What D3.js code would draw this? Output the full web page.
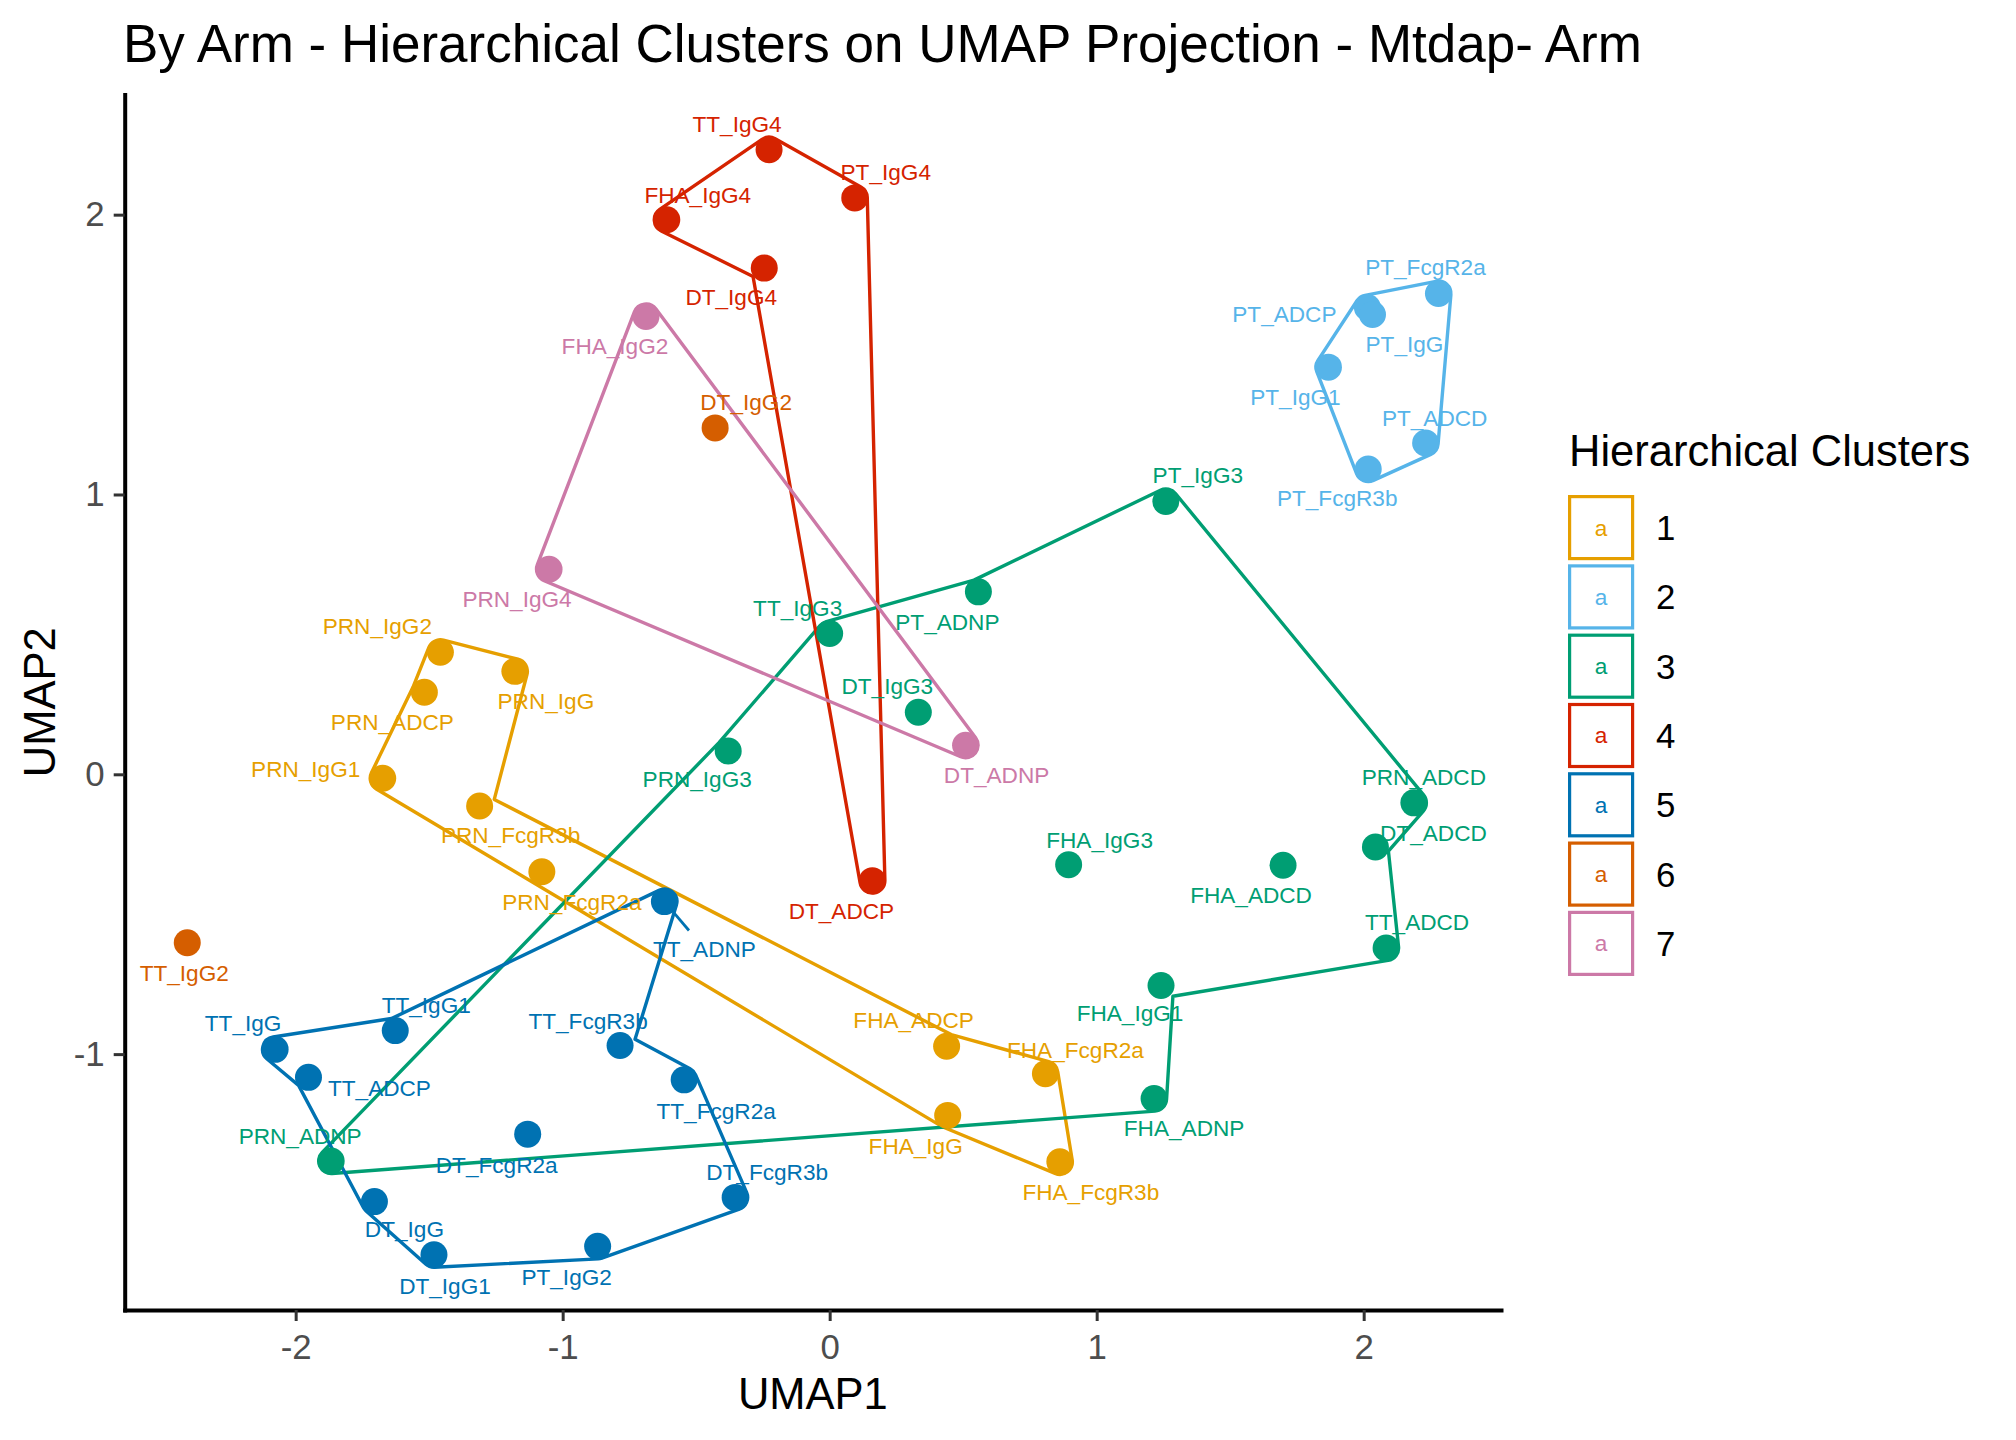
<!DOCTYPE html>
<html>
<head>
<meta charset="utf-8">
<script src="https://cdn.jsdelivr.net/npm/d3@7"></script>
<style>
  body { margin: 0; background: #fff; }
  text { font-family: "Liberation Sans", Arial, sans-serif; }
</style>
</head>
<body>
<div id="chart"></div>
<script>
// UMAP coordinates per feature
const names = [
  "PRN_IgG2", "PRN_IgG", "PRN_ADCP", "PRN_IgG1", "PRN_FcgR3b", "PRN_FcgR2a", "FHA_ADCP", "FHA_FcgR2a", "FHA_IgG", "FHA_FcgR3b",
  "PT_FcgR2a", "PT_ADCP", "PT_IgG", "PT_IgG1", "PT_ADCD", "PT_FcgR3b",
  "PT_IgG3", "PT_ADNP", "TT_IgG3", "DT_IgG3", "PRN_IgG3", "PRN_ADCD", "DT_ADCD", "FHA_IgG3", "FHA_ADCD", "TT_ADCD", "FHA_IgG1", "FHA_ADNP", "PRN_ADNP",
  "TT_IgG4", "PT_IgG4", "FHA_IgG4", "DT_IgG4", "DT_ADCP",
  "TT_ADNP", "TT_IgG", "TT_IgG1", "TT_FcgR3b", "TT_ADCP", "TT_FcgR2a", "DT_FcgR2a", "DT_FcgR3b", "DT_IgG", "PT_IgG2", "DT_IgG1",
  "DT_IgG2", "TT_IgG2",
  "FHA_IgG2", "PRN_IgG4", "DT_ADNP"
];
const umap1 = [
  -1.458, -1.179, -1.518, -1.674, -1.311, -1.078, 0.438, 0.808, 0.442, 0.862,
  2.280, 2.014, 2.033, 1.868, 2.232, 2.017,
  1.259, 0.557, 0.000, 0.332, -0.380, 2.188, 2.044, 0.895, 1.698, 2.084, 1.241, 1.215, -1.867,
  -0.227, 0.094, -0.610, -0.245, 0.160,
  -0.619, -2.077, -1.627, -0.785, -1.952, -0.545, -1.131, -0.354, -1.705, -0.869, -1.482,
  -0.429, -2.406,
  -0.688, -1.051, 0.509
];
const umap2 = [
  0.436, 0.368, 0.293, -0.014, -0.113, -0.348, -0.972, -1.070, -1.219, -1.385,
  1.718, 1.668, 1.643, 1.455, 1.184, 1.091,
  0.975, 0.652, 0.503, 0.222, 0.083, -0.102, -0.260, -0.323, -0.325, -0.621, -0.755, -1.159, -1.382,
  2.232, 2.060, 1.982, 1.809, -0.380,
  -0.455, -0.983, -0.916, -0.969, -1.083, -1.092, -1.286, -1.512, -1.527, -1.687, -1.717,
  1.238, -0.602,
  1.636, 0.733, 0.104
];
const clusters = [
  "1", "1", "1", "1", "1", "1", "1", "1", "1", "1",
  "2", "2", "2", "2", "2", "2",
  "3", "3", "3", "3", "3", "3", "3", "3", "3", "3", "3", "3", "3",
  "4", "4", "4", "4", "4",
  "5", "5", "5", "5", "5", "5", "5", "5", "5", "5", "5",
  "6", "6",
  "7", "7", "7"
];
const clusterLevels = ["1", "2", "3", "4", "5", "6", "7"];
const clusterColors = ["#E69F00", "#56B4E9", "#009E73", "#D52300", "#0072B2", "#D55E00", "#CC79A7"];

// boundary order of each cluster outline
const hullOrder = {
  "1": ["PRN_IgG2", "PRN_IgG", "PRN_FcgR3b", "FHA_ADCP", "FHA_FcgR2a", "FHA_FcgR3b", "FHA_IgG", "PRN_IgG1", "PRN_ADCP"],
  "2": ["PT_ADCP", "PT_FcgR2a", "PT_ADCD", "PT_FcgR3b", "PT_IgG1"],
  "3": ["PRN_ADNP", "PRN_IgG3", "TT_IgG3", "PT_ADNP", "PT_IgG3", "PRN_ADCD", "DT_ADCD", "TT_ADCD", "FHA_IgG1", "FHA_ADNP"],
  "4": ["TT_IgG4", "PT_IgG4", "DT_ADCP", "DT_IgG4", "FHA_IgG4"],
  "5": ["TT_IgG", "TT_IgG1", "TT_ADNP", "TT_FcgR3b", "TT_FcgR2a", "DT_FcgR3b", "PT_IgG2", "DT_IgG1", "DT_IgG", "TT_ADCP"],
  "7": ["FHA_IgG2", "DT_ADNP", "PRN_IgG4"]
};

const xTicks = [-2, -1, 0, 1, 2];
const yTicks = [-1, 0, 1, 2];

// repelled label placement (px from the point)
const labelNudge = {
  PRN_IgG2: [-63, -26], PRN_IgG: [31, 30], PRN_ADCP: [-32, 30], PRN_IgG1: [-77, -9], PRN_FcgR3b: [31, 29],
  PRN_FcgR2a: [30, 30], FHA_ADCP: [-33, -26], FHA_FcgR2a: [30, -24], FHA_IgG: [-32, 31], FHA_FcgR3b: [31, 30],
  PT_FcgR2a: [-13, -26], PT_ADCP: [-83, 7], PT_IgG: [32, 30], PT_IgG1: [-33, 30], PT_ADCD: [9, -25], PT_FcgR3b: [-31, 29],
  PT_IgG3: [32, -26], PT_ADNP: [-31, 30], TT_IgG3: [-32, -25], DT_IgG3: [-31, -26], PRN_IgG3: [-31, 28],
  PRN_ADCD: [10, -26], DT_ADCD: [58, -14], FHA_IgG3: [31, -25], FHA_ADCD: [-32, 30], TT_ADCD: [31, -26],
  FHA_IgG1: [-31, 28], FHA_ADNP: [30, 29], PRN_ADNP: [-31, -25],
  TT_IgG4: [-32, -26], PT_IgG4: [31, -26], FHA_IgG4: [31, -25], DT_IgG4: [-33, 29], DT_ADCP: [-31, 30],
  TT_ADNP: [40, 47], TT_IgG: [-32, -26], TT_IgG1: [31, -26], TT_FcgR3b: [-32, -24], TT_ADCP: [71, 11],
  TT_FcgR2a: [32, 31], DT_FcgR2a: [-31, 31], DT_FcgR3b: [32, -25], DT_IgG: [30, 28], PT_IgG2: [-31, 31], DT_IgG1: [11, 31],
  DT_IgG2: [31, -26], TT_IgG2: [-3, 30],
  FHA_IgG2: [-31, 30], PRN_IgG4: [-32, 30], DT_ADNP: [31, 30]
};

const width = 2016, height = 1440;
const panel = { left: 124.7, right: 1501, top: 94.5, bottom: 1310 };
const labelSize = 22.6, pointR = 13.5, hullExpand = 12.5;

const svg = d3.select("#chart")
  .append("svg")
  .attr("width", width)
  .attr("height", height)
  .style("display", "block");

svg.append("rect").attr("width", width).attr("height", height).attr("fill", "white");

function expand(ext) {
  const pad = (ext[1] - ext[0]) * 0.05;
  return [ext[0] - pad, ext[1] + pad];
}

const x = d3.scaleLinear().domain(expand(d3.extent(umap1))).range([panel.left, panel.right]);
const y = d3.scaleLinear().domain(expand(d3.extent(umap2))).range([panel.bottom, panel.top]);
const color = d3.scaleOrdinal().domain(clusterLevels).range(clusterColors);

const points = names.map((n, i) => ({ name: n, u1: umap1[i], u2: umap2[i], cluster: clusters[i] }));
const byName = new Map(points.map(d => [d.name, d]));

// outline expanded around the boundary points, rounded at convex corners
function hullPath(pts, e) {
  const n = pts.length;
  let area = 0;
  for (let i = 0; i < n; i++) {
    const a = pts[i], b = pts[(i + 1) % n];
    area += a[0] * b[1] - b[0] * a[1];
  }
  const s = area > 0 ? 1 : -1;
  const dirs = [], norms = [];
  for (let i = 0; i < n; i++) {
    const a = pts[i], b = pts[(i + 1) % n];
    const dx = b[0] - a[0], dy = b[1] - a[1];
    const len = Math.hypot(dx, dy);
    dirs.push([dx / len, dy / len]);
    norms.push([s * dy / len, -s * dx / len]);
  }
  const path = d3.path();
  for (let i = 0; i < n; i++) {
    const p = pts[i], ia = (i - 1 + n) % n;
    const d1 = dirs[ia], d2 = dirs[i], nA = norms[ia], nB = norms[i];
    const cross = d1[0] * d2[1] - d1[1] * d2[0];
    const A = [p[0] + e * nA[0], p[1] + e * nA[1]];
    const B = [p[0] + e * nB[0], p[1] + e * nB[1]];
    if (cross * s > 1e-6) {
      if (i === 0) path.moveTo(A[0], A[1]); else path.lineTo(A[0], A[1]);
      path.arc(p[0], p[1], e, Math.atan2(nA[1], nA[0]), Math.atan2(nB[1], nB[0]), s < 0);
    } else {
      let Q = A;
      if (Math.abs(cross) > 1e-6) {
        const t = ((B[0] - A[0]) * d2[1] - (B[1] - A[1]) * d2[0]) / cross;
        Q = [A[0] + t * d1[0], A[1] + t * d1[1]];
      }
      if (i === 0) path.moveTo(Q[0], Q[1]); else path.lineTo(Q[0], Q[1]);
    }
  }
  path.closePath();
  return path.toString();
}

// axes
const xAxis = d3.axisBottom(x).tickValues(xTicks).tickSize(11).tickSizeOuter(0).tickPadding(13);
const yAxis = d3.axisLeft(y).tickValues(yTicks).tickSize(11).tickSizeOuter(0).tickPadding(9);

const gx = svg.append("g")
  .attr("class", "x-axis")
  .attr("transform", `translate(0,${panel.bottom})`)
  .call(xAxis);
const gy = svg.append("g")
  .attr("class", "y-axis")
  .attr("transform", `translate(${panel.left},0)`)
  .call(yAxis);

[gx, gy].forEach(g => {
  g.select(".domain").attr("stroke", "black").attr("stroke-width", 4).attr("stroke-linecap", "square");
  g.selectAll(".tick line").attr("stroke", "#333333").attr("stroke-width", 3);
  g.selectAll(".tick text")
    .attr("fill", "#4D4D4D")
    .attr("font-size", 34.8)
    .style("font-family", '"Liberation Sans", Arial, sans-serif')
    .text(d => d < 0 ? "-" + Math.abs(d) : d);
});

// hulls
svg.append("g")
  .selectAll("path")
  .data(Object.keys(hullOrder))
  .join("path")
  .attr("d", k => hullPath(hullOrder[k].map(n => {
    const d = byName.get(n);
    return [x(d.u1), y(d.u2)];
  }), hullExpand))
  .attr("fill", "none")
  .attr("stroke", k => color(k))
  .attr("stroke-width", 3.4)
  .attr("stroke-linejoin", "round");

// points
svg.append("g")
  .selectAll("circle")
  .data(points)
  .join("circle")
  .attr("cx", d => x(d.u1))
  .attr("cy", d => y(d.u2))
  .attr("r", pointR)
  .attr("fill", d => color(d.cluster));

// labels and segments
const segG = svg.append("g");
const labels = svg.append("g")
  .selectAll("text")
  .data(points)
  .join("text")
  .attr("x", d => x(d.u1) + labelNudge[d.name][0])
  .attr("y", d => y(d.u2) + labelNudge[d.name][1])
  .attr("dy", "0.35em")
  .attr("text-anchor", "middle")
  .attr("font-size", labelSize)
  .attr("fill", d => color(d.cluster))
  .text(d => d.name);

labels.each(function (d) {
  const px = x(d.u1), py = y(d.u2);
  const dx = labelNudge[d.name][0], dy = labelNudge[d.name][1];
  const dist = Math.hypot(dx, dy);
  const ux = dx / dist, uy = dy / dist;
  const w = this.getComputedTextLength() / 2 + 10;
  const h = labelSize * 0.36 + 10;
  const tx = Math.abs(ux) > 1e-6 ? (Math.abs(dx) - w) / Math.abs(ux) : -Infinity;
  const ty = Math.abs(uy) > 1e-6 ? (Math.abs(dy) - h) / Math.abs(uy) : -Infinity;
  const tEnd = Math.max(tx, ty);
  if (tEnd - pointR > 12) {
    segG.append("line")
      .attr("x1", px + ux * pointR)
      .attr("y1", py + uy * pointR)
      .attr("x2", px + ux * tEnd)
      .attr("y2", py + uy * tEnd)
      .attr("stroke", color(d.cluster))
      .attr("stroke-width", 2.8);
  }
});

// titles
svg.append("text")
  .attr("x", 123)
  .attr("y", 62)
  .attr("font-size", 53)
  .attr("fill", "black")
  .text("By Arm - Hierarchical Clusters on UMAP Projection - Mtdap- Arm");

svg.append("text")
  .attr("x", (panel.left + panel.right) / 2)
  .attr("y", 1409)
  .attr("text-anchor", "middle")
  .attr("font-size", 43.5)
  .attr("fill", "black")
  .text("UMAP1");

svg.append("text")
  .attr("transform", `translate(55,${(panel.top + panel.bottom) / 2}) rotate(-90)`)
  .attr("text-anchor", "middle")
  .attr("font-size", 43.5)
  .attr("fill", "black")
  .text("UMAP2");

// legend
const legend = svg.append("g").attr("class", "legend");
legend.append("text")
  .attr("x", 1569)
  .attr("y", 466)
  .attr("font-size", 43.5)
  .attr("fill", "black")
  .text("Hierarchical Clusters");

const keyTop = 493, keyStep = 69.3;
const keys = legend.selectAll(".key")
  .data(clusterLevels)
  .join("g")
  .attr("class", "key")
  .attr("transform", (d, i) => `translate(1568,${keyTop + i * keyStep})`);

keys.append("rect")
  .attr("x", 1.6)
  .attr("y", 3.6)
  .attr("width", 63)
  .attr("height", 62)
  .attr("fill", "white")
  .attr("stroke", d => color(d))
  .attr("stroke-width", 3.2);

keys.append("text")
  .attr("x", 33)
  .attr("y", 34.6)
  .attr("dy", "0.35em")
  .attr("text-anchor", "middle")
  .attr("font-size", labelSize)
  .attr("fill", d => color(d))
  .text("a");

keys.append("text")
  .attr("x", 88)
  .attr("y", 34.6)
  .attr("dy", "0.36em")
  .attr("font-size", 34.8)
  .attr("fill", "black")
  .text(d => d);
</script>
</body>
</html>
